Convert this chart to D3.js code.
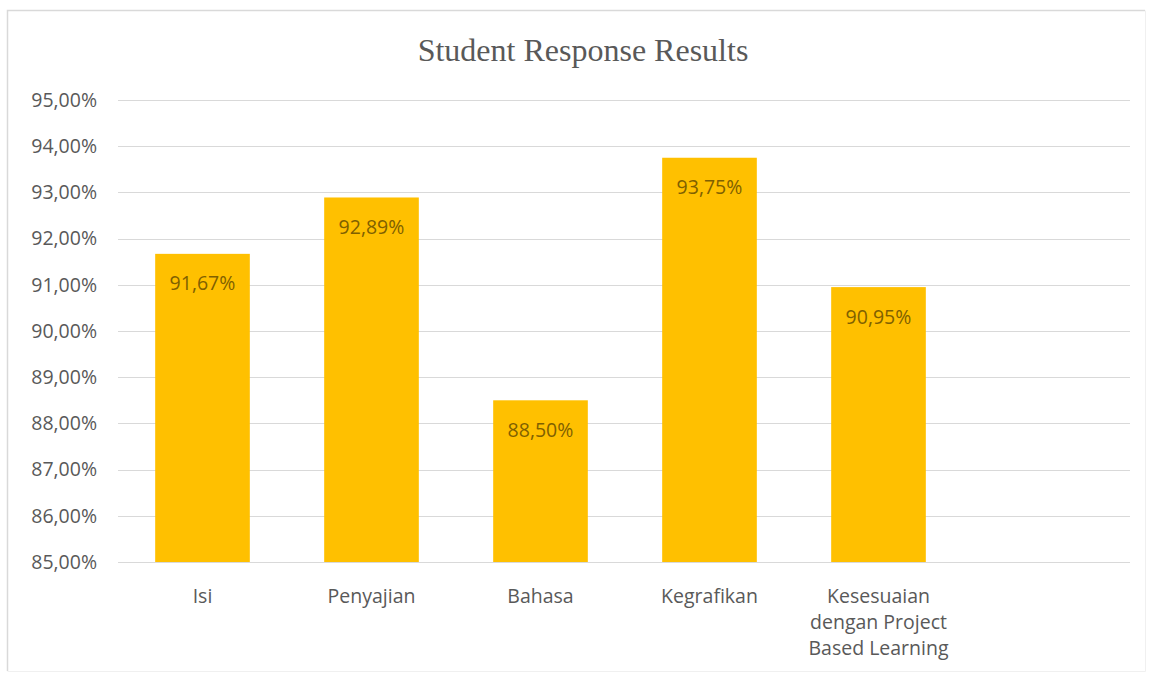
<!DOCTYPE html>
<html><head><meta charset="utf-8">
<script src="https://cdn.jsdelivr.net/npm/d3@7"></script>
<style>html,body{margin:0;padding:0;background:#fff;}</style>
</head><body>
<svg id="c" width="1153" height="679"></svg>
<script>
const categories = ["Isi", "Penyajian", "Bahasa", "Kegrafikan", "Kesesuaian dengan Project Based Learning", ""];
const values = [91.67, 92.89, 88.50, 93.75, 90.95, null];
const yTicks = [85, 86, 87, 88, 89, 90, 91, 92, 93, 94, 95];
const categoryLines = [["Isi"], ["Penyajian"], ["Bahasa"], ["Kegrafikan"], ["Kesesuaian", "dengan Project", "Based Learning"], []];
const title = "Student Response Results";

const svg = d3.select("#c");
const fmt = v => v.toFixed(2).replace(".", ",") + "%";
const font = "'Open Sans', 'Noto Sans', sans-serif";
const fs = "19.5px";

// border
svg.append("path").attr("d", "M7.5,671 V10.5 H1145").attr("fill", "none")
  .attr("stroke", "#d9d9d9").attr("stroke-width", 1.5);
svg.append("path").attr("d", "M1145.5,10.5 V671.5 H7.5").attr("fill", "none")
  .attr("stroke", "#f0f0f0").attr("stroke-width", 1);

const x = d3.scaleBand().domain(categories.map((c, i) => i)).range([118, 1132]).paddingInner(0.44).paddingOuter(0.22);
const y = d3.scaleLinear().domain([85, 95]).range([562, 100]);

// gridlines
svg.append("g").selectAll("line").data(yTicks).join("line")
  .attr("x1", 118).attr("x2", 1130)
  .attr("y1", d => Math.round(y(d)) + 0.5).attr("y2", d => Math.round(y(d)) + 0.5)
  .attr("stroke", "#d9d9d9").attr("stroke-width", 1);

// y axis labels
const yAxis = d3.axisLeft(y).tickValues(yTicks).tickFormat(fmt).tickSize(0).tickPadding(0);
const gy = svg.append("g").attr("transform", "translate(97,0)").call(yAxis);
gy.select(".domain").remove();
gy.selectAll("text").attr("fill", "#595959").style("font-family", font).style("font-size", fs);

// bars
const data = categories.map((c, i) => ({i, c, v: values[i]})).filter(d => d.v != null);
svg.append("g").selectAll("rect").data(data).join("rect")
  .attr("x", d => x(d.i)).attr("width", x.bandwidth())
  .attr("y", d => y(d.v)).attr("height", d => y(85) - y(d.v))
  .attr("fill", "#ffc000");

// value labels
svg.append("g").selectAll("text").data(data).join("text")
  .attr("x", d => x(d.i) + x.bandwidth() / 2).attr("y", d => y(d.v) + 29)
  .attr("text-anchor", "middle").attr("dominant-baseline", "central")
  .attr("fill", "#7f6000").style("font-family", font).style("font-size", fs)
  .text(d => fmt(d.v));

// x labels
const gx = svg.append("g");
categoryLines.forEach((lines, i) => {
  lines.forEach((ln, j) => {
    gx.append("text").attr("x", x(i) + x.bandwidth() / 2).attr("y", 595 + j * 26)
      .attr("text-anchor", "middle").attr("dominant-baseline", "central")
      .attr("fill", "#595959").style("font-family", font).style("font-size", fs)
      .text(ln);
  });
});

// title
svg.append("text").attr("x", 583).attr("y", 50).attr("text-anchor", "middle")
  .attr("dominant-baseline", "central").attr("fill", "#595959")
  .style("font-family", "'Liberation Serif', 'DejaVu Serif', serif").style("font-size", "32px")
  .text(title);
</script>
</body></html>
